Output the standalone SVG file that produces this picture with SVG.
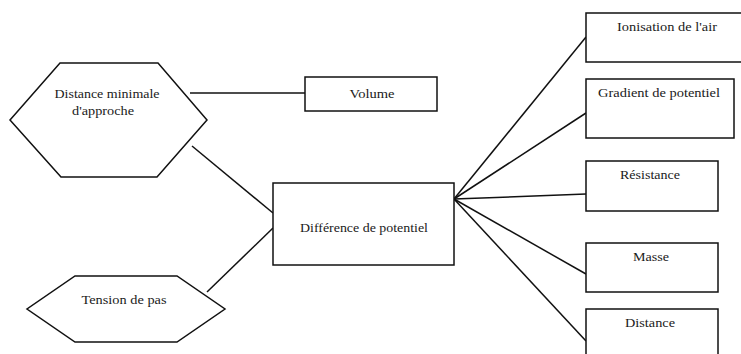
<svg xmlns="http://www.w3.org/2000/svg" width="741" height="354" viewBox="0 0 741 354">
<style>
.shape{fill:#fff;stroke:#111;stroke-width:1.5}
.lbl{font-family:"Liberation Serif","DejaVu Serif",serif;font-size:13.5px;fill:#1a1a1a;text-anchor:middle}
.conn line{stroke:#111;stroke-width:1.5}
</style>
<rect width="741" height="354" fill="#fff"/>
<g class="conn" id="connectors">
<line x1="190" y1="93" x2="305" y2="93"/>
<line x1="192" y1="146" x2="273" y2="213"/>
<line x1="207" y1="292" x2="273" y2="228"/>
<line x1="454" y1="199" x2="586" y2="37"/>
<line x1="454" y1="199" x2="586" y2="113"/>
<line x1="454" y1="199" x2="586" y2="194"/>
<line x1="454" y1="199" x2="586" y2="274"/>
<line x1="454" y1="199" x2="586" y2="341"/>
</g>
<g id="n-distance-min">
<polygon class="shape" points="60,63 158,63 207,120 157,177 61,177 10,120"/>
<text class="lbl" x="107" y="97.5" textLength="105" lengthAdjust="spacingAndGlyphs">Distance minimale</text>
<text class="lbl" x="103" y="114.5" textLength="62" lengthAdjust="spacingAndGlyphs">d'approche</text>
</g>
<g id="n-tension">
<polygon class="shape" points="75,276 177,276 225,309 177,342 75,342 27,309"/>
<text class="lbl" x="124" y="304" textLength="85" lengthAdjust="spacingAndGlyphs">Tension de pas</text>
</g>
<g id="n-volume">
<rect class="shape" x="305" y="77" width="132" height="34"/>
<text class="lbl" x="372" y="98" textLength="45" lengthAdjust="spacingAndGlyphs">Volume</text>
</g>
<g id="n-difference">
<rect class="shape" x="273" y="183" width="181" height="82"/>
<text class="lbl" x="364" y="232" textLength="128" lengthAdjust="spacingAndGlyphs">Différence de potentiel</text>
</g>
<g id="n-ionisation">
<rect class="shape" x="586" y="13" width="160" height="49"/>
<text class="lbl" x="667" y="31" textLength="100" lengthAdjust="spacingAndGlyphs">Ionisation de l'air</text>
</g>
<g id="n-gradient">
<rect class="shape" x="586" y="79" width="148" height="59"/>
<text class="lbl" x="659" y="97" textLength="122" lengthAdjust="spacingAndGlyphs">Gradient de potentiel</text>
</g>
<g id="n-resistance">
<rect class="shape" x="586" y="161" width="132" height="50"/>
<text class="lbl" x="650" y="179" textLength="60" lengthAdjust="spacingAndGlyphs">Résistance</text>
</g>
<g id="n-masse">
<rect class="shape" x="586" y="243" width="132" height="49"/>
<text class="lbl" x="651" y="261" textLength="36" lengthAdjust="spacingAndGlyphs">Masse</text>
</g>
<g id="n-distance">
<rect class="shape" x="586" y="309" width="132" height="50"/>
<text class="lbl" x="650" y="327" textLength="50" lengthAdjust="spacingAndGlyphs">Distance</text>
</g>
</svg>
